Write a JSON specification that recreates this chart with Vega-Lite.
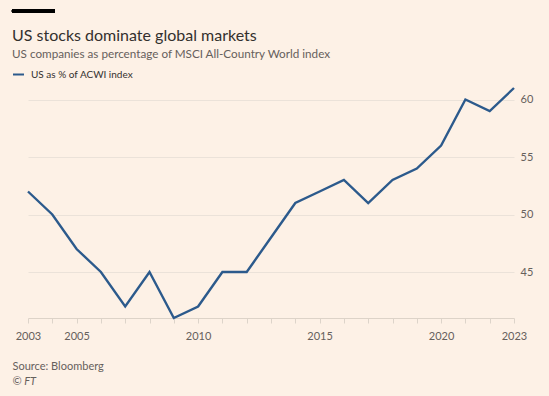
{
  "$schema": "https://vega.github.io/schema/vega-lite/v6.json",
  "width": 486,
  "height": 230,
  "autosize": "none",
  "padding": {"left": 28, "top": 88, "right": 35, "bottom": 78},
  "background": "#FDF1E6",
  "config": {"view": {"stroke": null}, "font": "Lato"},
  "title": {
    "text": "US stocks dominate global markets",
    "subtitle": "US companies as percentage of MSCI All-Country World index",
    "anchor": "start",
    "frame": "group",
    "dx": -16,
    "dy": 51,
    "offset": 0,
    "fontSize": 16,
    "fontWeight": "normal",
    "color": "#33302e",
    "subtitleFontSize": 11.7,
    "subtitleColor": "#66605c",
    "subtitlePadding": 5
  },
  "data": {
    "values": [
      {"year": 2003, "pct": 52},
      {"year": 2004, "pct": 50},
      {"year": 2005, "pct": 47},
      {"year": 2006, "pct": 45},
      {"year": 2007, "pct": 42},
      {"year": 2008, "pct": 45},
      {"year": 2009, "pct": 41},
      {"year": 2010, "pct": 42},
      {"year": 2011, "pct": 45},
      {"year": 2012, "pct": 45},
      {"year": 2013, "pct": 48},
      {"year": 2014, "pct": 51},
      {"year": 2015, "pct": 52},
      {"year": 2016, "pct": 53},
      {"year": 2017, "pct": 51},
      {"year": 2018, "pct": 53},
      {"year": 2019, "pct": 54},
      {"year": 2020, "pct": 56},
      {"year": 2021, "pct": 60},
      {"year": 2022, "pct": 59},
      {"year": 2023, "pct": 61}
    ]
  },
  "resolve": {"axis": {"x": "independent"}},
  "layer": [
    {
      "mark": {"type": "line", "strokeWidth": 2.4, "strokeJoin": "miter"},
      "encoding": {
        "x": {
          "field": "year",
          "type": "quantitative",
          "scale": {"domain": [2003, 2023], "nice": false, "zero": false},
          "axis": {
            "orient": "bottom",
            "values": [2003, 2004, 2005, 2006, 2007, 2008, 2009, 2010, 2011, 2012, 2013, 2014, 2015, 2016, 2017, 2018, 2019, 2020, 2021, 2022, 2023],
            "labels": false,
            "grid": false,
            "domain": true,
            "domainColor": "#ddd3c8",
            "tickColor": "#ddd4ca",
            "tickSize": 5,
            "title": "Source: Bloomberg",
            "titleX": -16,
            "titleY": 48,
            "titleAlign": "left",
            "titleBaseline": "middle",
            "titleFontWeight": "normal",
            "titleFontSize": 11,
            "titleColor": "#66605c"
          }
        },
        "y": {
          "field": "pct",
          "type": "quantitative",
          "scale": {"domain": [41, 61], "nice": false, "zero": false},
          "axis": {
            "orient": "right",
            "values": [45, 50, 55, 60],
            "grid": true,
            "gridColor": "#ebe2d9",
            "domain": false,
            "ticks": false,
            "labelPadding": 6,
            "labelColor": "#66605c",
            "labelFontSize": 11,
            "title": "© FT",
            "titleAngle": 0,
            "titleX": -502,
            "titleY": 293,
            "titleAlign": "left",
            "titleBaseline": "middle",
            "titleFontStyle": "italic",
            "titleFontWeight": "normal",
            "titleFontSize": 11,
            "titleColor": "#66605c"
          }
        },
        "color": {
          "datum": "US as % of ACWI index",
          "scale": {"range": ["#2c5a8c"]},
          "legend": {
            "orient": "none",
            "legendX": -16,
            "legendY": -20,
            "title": null,
            "symbolType": "stroke",
            "symbolStrokeWidth": 2,
            "symbolSize": 120,
            "labelFontSize": 10,
            "labelColor": "#33302e",
            "labelOffset": 6
          }
        }
      }
    },
    {
      "mark": {"type": "rule", "color": "#000000", "strokeWidth": 3},
      "encoding": {
        "x": {
          "datum": 2002.34,
          "type": "quantitative",
          "axis": {
            "orient": "bottom",
            "values": [2003, 2005, 2010, 2015, 2020, 2023],
            "format": "d",
            "domain": false,
            "ticks": false,
            "grid": false,
            "labelColor": "#66605c",
            "labelFontSize": 11,
            "labelPadding": 12,
            "labelFlush": false,
            "labelOverlap": false,
            "title": null
          }
        },
        "x2": {"datum": 2004.11},
        "y": {"datum": 67.67}
      }
    }
  ]
}
